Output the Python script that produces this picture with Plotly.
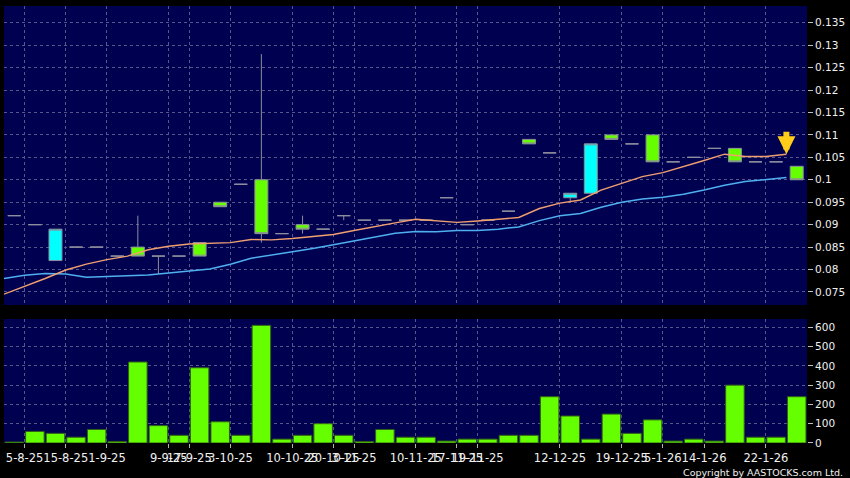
import plotly.graph_objects as go

# ---- data ----
opens  = [0.092,0.090,0.082,0.085,0.085,0.083,0.085,0.083,0.083,0.086,0.095,0.099,0.100,0.088,0.090,0.089,0.092,0.091,0.091,0.091,
          0.091,0.096,0.090,0.091,0.093,0.109,0.106,0.096,0.097,0.110,0.108,0.110,0.104,0.105,0.107,0.107,0.104,0.104,0.103]
highs  = [0.092,0.090,0.089,0.085,0.085,0.083,0.092,0.083,0.083,0.086,0.095,0.099,0.128,0.088,0.092,0.089,0.092,0.091,0.091,0.091,
          0.091,0.096,0.090,0.091,0.093,0.109,0.106,0.097,0.108,0.110,0.108,0.110,0.104,0.105,0.107,0.107,0.104,0.104,0.103]
lows   = [0.092,0.090,0.082,0.085,0.085,0.083,0.083,0.079,0.083,0.083,0.094,0.099,0.086,0.088,0.088,0.089,0.091,0.091,0.091,0.091,
          0.091,0.096,0.090,0.091,0.093,0.108,0.106,0.095,0.097,0.109,0.108,0.104,0.104,0.105,0.107,0.104,0.104,0.104,0.100]
closes = [0.092,0.090,0.089,0.085,0.085,0.083,0.083,0.083,0.083,0.083,0.094,0.099,0.088,0.088,0.089,0.089,0.092,0.091,0.091,0.091,
          0.091,0.096,0.090,0.091,0.093,0.108,0.106,0.097,0.108,0.109,0.108,0.104,0.104,0.105,0.107,0.104,0.104,0.104,0.100]
volumes = [5,60,50,30,70,8,420,90,40,390,110,40,610,20,40,100,40,8,70,30,
           30,10,20,20,40,40,240,140,20,150,50,120,10,20,10,300,30,30,240]
ma10 = [0.0745,0.0762,0.0780,0.0799,0.0812,0.0822,0.0830,0.0844,0.0852,0.0857,0.0858,0.0860,0.0867,0.0866,0.0869,0.0873,
        0.0878,0.0887,0.0896,0.0904,0.0912,0.0909,0.0905,0.0908,0.0912,0.0916,0.0936,0.0948,0.0955,0.0977,0.0992,0.1007,
        0.1016,0.1029,0.1043,0.1057,0.1052,0.1052,0.1057]
ma20 = [0.0780,0.0787,0.0791,0.0790,0.0783,0.0784,0.0786,0.0788,0.0793,0.0797,0.0801,0.0812,0.0825,0.0832,0.0839,0.0847,
        0.0855,0.0864,0.0873,0.0881,0.0885,0.0884,0.0887,0.0887,0.0890,0.0895,0.0909,0.0920,0.0925,0.0939,0.0950,0.0957,
        0.0961,0.0968,0.0977,0.0988,0.0996,0.1000,0.1005]
tick_idx = [1,3,5,8,9,11,14,16,17,20,22,23,27,30,32,34,37]
tick_labels = ["5-8-25","15-8-25","1-9-25","9-9-25","17-9-25","3-10-25","10-10-25","20-10-25","3-11-25",
               "10-11-25","17-11-25","19-11-25","12-12-25","19-12-25","5-1-26","14-1-26","22-1-26"]
price_ticks = [0.075,0.08,0.085,0.09,0.095,0.1,0.105,0.11,0.115,0.12,0.125,0.13,0.135]
price_tick_text = ["0.075","0.08","0.085","0.09","0.095","0.1","0.105","0.11","0.115","0.12","0.125","0.13","0.135"]
vol_ticks = [0,100,200,300,400,500,600]

n = len(closes)
xs = list(range(n))
ma_x = [i - 0.5 for i in xs]          # MA points sit on slot boundaries
tick_pos = [i - 0.5 for i in tick_idx]

GRID = "#56568a"
LINE = "#8e8e9e"
GREEN = "#66ff00"
CYAN = "#00ffff"

fig = go.Figure()
fig.add_trace(go.Candlestick(
    x=xs, open=opens, high=highs, low=lows, close=closes,
    increasing=dict(fillcolor=CYAN, line=dict(color=LINE, width=1)),
    decreasing=dict(fillcolor=GREEN, line=dict(color=LINE, width=1)),
    whiskerwidth=0, xaxis="x", yaxis="y", showlegend=False, hoverinfo="skip"))
fig.add_trace(go.Scatter(x=ma_x, y=ma20, mode="lines", line=dict(color="#4fb0f0", width=1.5),
                         xaxis="x", yaxis="y", showlegend=False, hoverinfo="skip"))
fig.add_trace(go.Scatter(x=ma_x, y=ma10, mode="lines", line=dict(color="#f0a070", width=1.4),
                         xaxis="x", yaxis="y", showlegend=False, hoverinfo="skip"))
fig.add_trace(go.Bar(x=xs, y=volumes, marker=dict(color=GREEN, line=dict(color="#2f5f18", width=1)),
                     xaxis="x2", yaxis="y2", showlegend=False, hoverinfo="skip"))

fig.add_annotation(x=ma_x[-1], y=ma10[-1], xref="x", yref="y", text="", showarrow=True,
                   arrowhead=2, arrowsize=0.6, arrowwidth=6, arrowcolor="#ffcc1a", ax=0, ay=-24)
fig.add_annotation(x=1, y=0, xref="paper", yref="paper", yshift=-29, xshift=38,
                   text="Copyright by AASTOCKS.com Ltd.", showarrow=False, xanchor="right", yanchor="middle",
                   font=dict(family="DejaVu Sans", size=9.5, color="#f0f0f0"))

xcommon = dict(range=[-0.5, n - 0.5], tickmode="array", tickvals=tick_pos, showgrid=True,
               gridcolor=GRID, griddash="3px,3px", gridwidth=1, zeroline=False, showline=False)
fig.update_layout(
    width=850, height=478,
    margin=dict(l=4, r=43, t=6, b=35),
    paper_bgcolor="black", plot_bgcolor="#000050",
    boxgap=0.1, bargap=0.1,
    font=dict(family="DejaVu Sans", color="#f0f0f0"),
    xaxis=dict(domain=[0, 1], anchor="y", showticklabels=False, ticks="", rangeslider=dict(visible=False), **xcommon),
    xaxis2=dict(domain=[0, 1], anchor="y2", matches="x", ticktext=tick_labels, ticks="outside", ticklen=4,
                tickangle=0, tickcolor="#b0b0b0", tickfont=dict(size=11.5, color="#f0f0f0"), **xcommon),
    yaxis=dict(domain=[0.3158, 1], anchor="x", side="right", range=[0.0721, 0.13872],
               tickmode="array", tickvals=price_ticks, ticktext=price_tick_text,
               ticks="outside", ticklen=5, tickcolor="#c0c0c0", tickfont=dict(size=10.5),
               showgrid=True, gridcolor=GRID, griddash="3px,3px", zeroline=False),
    yaxis2=dict(domain=[0, 0.2838], anchor="x2", side="right", range=[0, 643],
                tickmode="array", tickvals=vol_ticks, ticks="outside", ticklen=5, tickcolor="#c0c0c0",
                tickfont=dict(size=10.5), showgrid=True, gridcolor=GRID, griddash="3px,3px", zeroline=False),
)
fig.write_html("out.html", config={"displayModeBar": False},
               post_script="document.body.style.margin='0';document.body.style.background='black';")
